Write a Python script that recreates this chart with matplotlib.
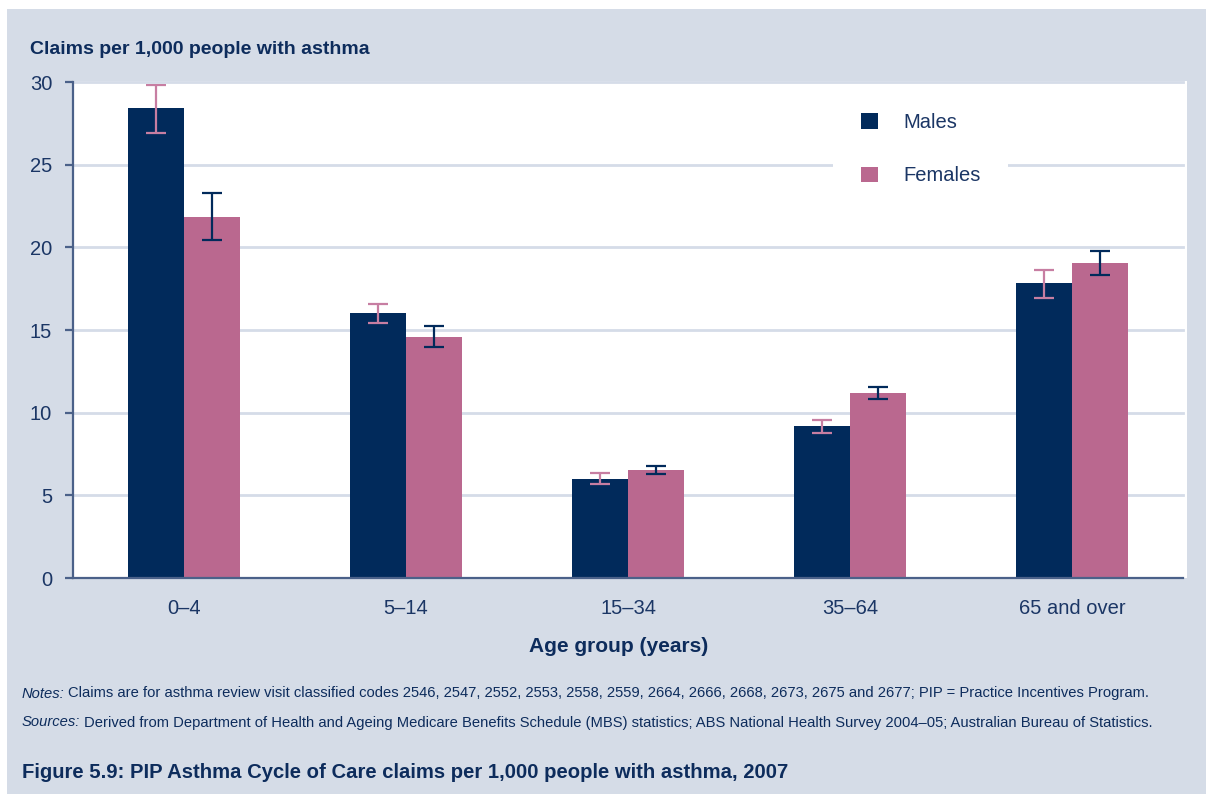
import matplotlib
matplotlib.use("Agg")
import matplotlib.pyplot as plt
from matplotlib.patches import Rectangle, Patch
import numpy as np

# Data: PIP Asthma Cycle of Care claims per 1,000 people with asthma, 2007
age_groups = ["0\u20134", "5\u201314", "15\u201334", "35\u201364", "65 and over"]
males = [28.4, 16.0, 6.0, 9.2, 17.85]
males_lo = [26.9, 15.45, 5.7, 8.8, 16.95]
males_hi = [29.8, 16.6, 6.35, 9.55, 18.65]
females = [21.85, 14.6, 6.55, 11.2, 19.05]
females_lo = [20.45, 14.0, 6.3, 10.85, 18.35]
females_hi = [23.3, 15.25, 6.8, 11.55, 19.8]
y_ticks = [0, 5, 10, 15, 20, 25, 30]

NAVY = "#012A5B"
PINK = "#BA688F"
PINK_ERR = "#C77EA2"
PANEL = "#D5DCE7"
TEXT = "#1B3665"
DARK = "#0D2C5C"
GRID = "#D5DCE8"
SPINE = "#4B6189"

W, H = 1206, 794
fig = plt.figure(figsize=(W / 100, H / 100), dpi=100, facecolor="white")

def px(x0, y0, x1, y1):
    """Figure-fraction box from pixel coordinates measured from the top-left."""
    return [x0 / W, 1 - y1 / H, (x1 - x0) / W, (y1 - y0) / H]

# Light panel behind the whole figure
fig.patches.append(Rectangle((7 / W, 0), 1 - 7 / W, 1 - 9 / H, transform=fig.transFigure,
                             facecolor=PANEL, edgecolor="none", zorder=-2))
# White plotting field
fig.patches.append(Rectangle((73 / W, 1 - 578 / H), (1187 - 73) / W, (578 - 81) / H,
                             transform=fig.transFigure, facecolor="white",
                             edgecolor="none", zorder=-1))

ax = fig.add_axes(px(73, 82, 1183, 578))
ax.set_facecolor("none")
ax.set_zorder(2)

sans = ["Liberation Sans", "DejaVu Sans"]

x = np.arange(len(age_groups))
bw = 0.252
ax.bar(x - bw / 2, males, width=bw, color=NAVY, zorder=3)
ax.bar(x + bw / 2, females, width=bw, color=PINK, zorder=3)

m_err = [np.array(males) - np.array(males_lo), np.array(males_hi) - np.array(males)]
f_err = [np.array(females) - np.array(females_lo), np.array(females_hi) - np.array(females)]
ax.errorbar(x - bw / 2, males, yerr=m_err, fmt="none", ecolor=PINK_ERR,
            elinewidth=1.6, capsize=7.5, capthick=1.6, zorder=4)
ax.errorbar(x + bw / 2, females, yerr=f_err, fmt="none", ecolor=NAVY,
            elinewidth=1.6, capsize=7.5, capthick=1.6, zorder=4)

ax.set_xlim(-0.5, len(age_groups) - 0.5)
ax.set_ylim(0, 30)
ax.set_yticks(y_ticks)
ax.set_yticklabels([str(v) for v in y_ticks])
ax.set_xticks(x)
ax.set_xticklabels(age_groups)

# Horizontal grid; the top line stays above the legend box
for v in y_ticks[1:]:
    ax.axhline(v, color=GRID, lw=2.0, zorder=7 if v == y_ticks[-1] else 1, clip_on=False)

for s in ["top", "right"]:
    ax.spines[s].set_visible(False)
for s in ["left", "bottom"]:
    ax.spines[s].set_color(SPINE)
    ax.spines[s].set_linewidth(1.6)
    ax.spines[s].set_zorder(8)

ax.tick_params(axis="y", length=6, width=1.6, color=SPINE, pad=9,
               labelsize=14.5, labelcolor=TEXT)
ax.tick_params(axis="x", length=0, pad=15, labelsize=14.5, labelcolor=TEXT)
for lab in ax.get_xticklabels() + ax.get_yticklabels():
    lab.set_family(sans)

# Axis titles
fig.text(30 / W, 1 - 54.5 / H, "Claims per 1,000 people with asthma", family=sans,
         fontsize=14, fontweight="bold", color=DARK, ha="left", va="baseline")
fig.text(619 / W, 1 - 652 / H, "Age group (years)", family=sans,
         fontsize=15, fontweight="bold", color=DARK, ha="center", va="baseline")

# Legend
handles = [Patch(facecolor=NAVY, edgecolor="none", label="Males"),
           Patch(facecolor=PINK, edgecolor="none", label="Females")]
leg = ax.legend(handles=handles, loc="upper left",
                bbox_to_anchor=((833 - 73) / 1110, 1.0 - 3 / 496),
                frameon=True, facecolor="white", edgecolor="none", framealpha=1,
                prop={"family": sans, "size": 14.5}, handlelength=0.82, handleheight=0.82,
                handletextpad=1.25, labelspacing=1.7, borderpad=1.4, borderaxespad=0,
                fancybox=False)
for t in leg.get_texts():
    t.set_color(TEXT)
leg.set_zorder(6)

# Notes and sources: an italic lead-in followed by the body text
renderer = fig.canvas.get_renderer()

def note_line(lead, body, baseline_px, size=10.6):
    t = fig.text(21.5 / W, 1 - baseline_px / H, lead, family=sans, fontsize=size,
                 style="italic", color=DARK, ha="left", va="baseline")
    bb = t.get_window_extent(renderer)
    fig.text((bb.x1 + 4) / W, 1 - baseline_px / H, body, family=sans, fontsize=size,
             color=DARK, ha="left", va="baseline")

note_line("Notes:",
          "Claims are for asthma review visit classified codes 2546, 2547, 2552, 2553, 2558, 2559, "
          "2664, 2666, 2668, 2673, 2675 and 2677; PIP = Practice Incentives Program.", 697.5)
note_line("Sources:",
          "Derived from Department of Health and Ageing Medicare Benefits Schedule (MBS) statistics; "
          "ABS National Health Survey 2004\u201305; Australian Bureau of Statistics.", 726.5)

fig.text(21.5 / W, 1 - 777.5 / H,
         "Figure 5.9: PIP Asthma Cycle of Care claims per 1,000 people with asthma, 2007",
         family=sans, fontsize=14.6, fontweight="bold", color=DARK, ha="left", va="baseline")

fig.savefig("out.png", dpi=100, facecolor="white")
